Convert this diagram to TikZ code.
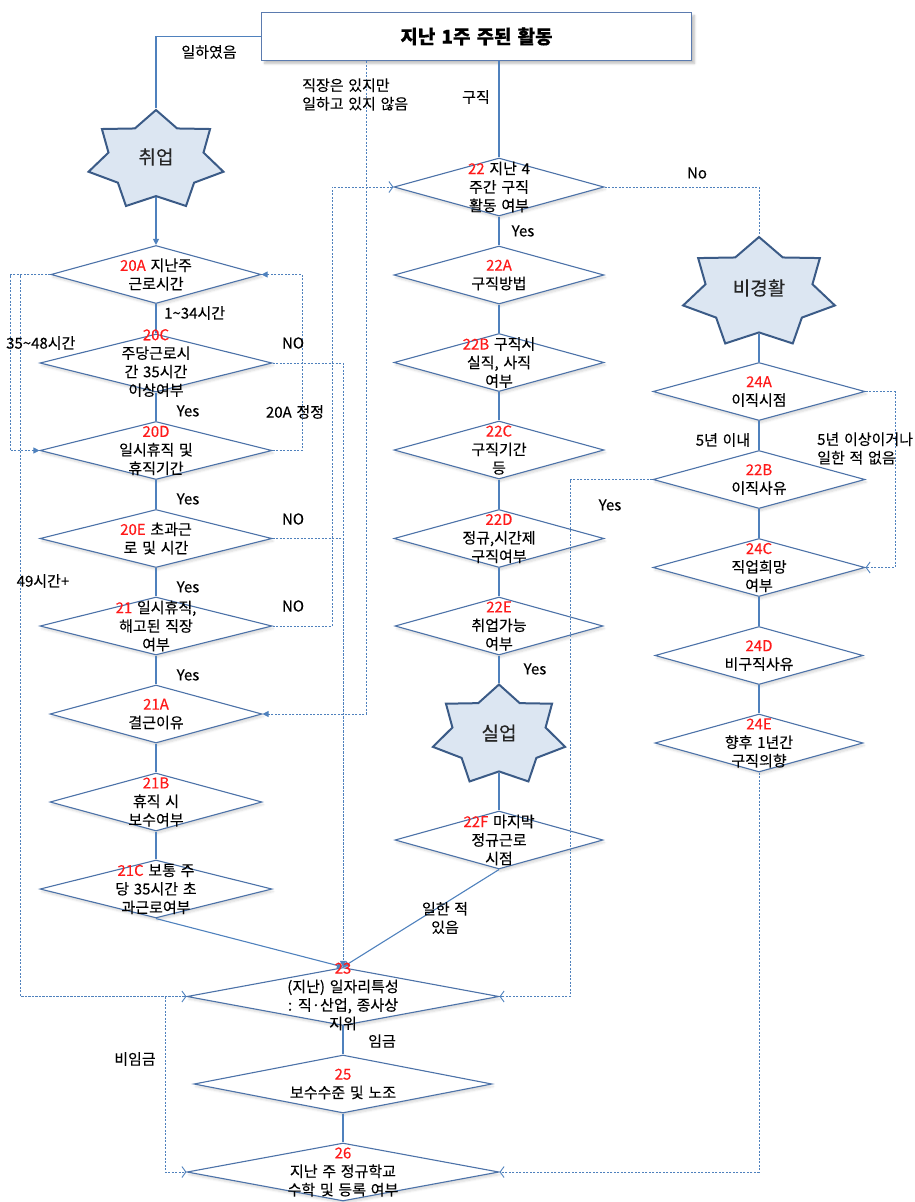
\documentclass[tikz,border=0pt]{standalone}
\usepackage{fontspec}
\setmainfont{Noto Sans CJK KR}[WordSpace=1.4, FakeBold=0.2]
\usetikzlibrary{shapes.geometric,arrows.meta,shadows.blur}

\definecolor{linkblue}{HTML}{4F81BD}
\definecolor{diaedge}{HTML}{4C72A8}
\definecolor{starfill}{HTML}{DCE6F2}
\definecolor{staredge}{HTML}{3B5B87}
\definecolor{boxedge}{HTML}{5B7BAF}
\definecolor{codered}{HTML}{FF1A1A}

\newcommand\diafont{\fontsize{15}{18.5}\selectfont}
\newcommand\code[1]{\textcolor{codered}{#1}}

\tikzset{
  dia/.style={diamond, draw=diaedge, line width=1.1pt, fill=white, inner sep=0pt,
    minimum width=#1, minimum height=58pt,
    blur shadow={shadow xshift=1.5pt, shadow yshift=-2.5pt, shadow opacity=15, shadow blur steps=5}},
  dtext/.style={align=center, font=\diafont, inner sep=0pt},
  lbl/.style={font=\diafont, inner sep=0pt},
  starbody/.style={star, star points=7, star point ratio=1.42, draw=staredge,
    line width=2pt, fill=starfill, inner sep=0pt, minimum size=#1},
  startext/.style={font=\fontsize{19}{22}\selectfont, text=black!85, inner sep=0pt},
  topbox/.style={rectangle, draw=boxedge, line width=1.2pt, fill=white,
    minimum width=430pt, minimum height=48pt, inner sep=0pt,
    font=\fontsize{19}{22}\selectfont\bfseries,
    blur shadow={shadow xshift=3pt, shadow yshift=-3pt, shadow opacity=25, shadow blur steps=6}},
  sline/.style={draw=linkblue, line width=1.1pt},
  dline/.style={draw=linkblue, line width=0.9pt, dash pattern=on 2.2pt off 1.3pt},
  tipF/.style={-{Triangle[length=6pt,width=6pt]}},
  tipO/.style={-{Straight Barb[length=4pt,width=11pt]}},
}

\begin{document}
\begin{tikzpicture}[x=1pt, y=-1pt]
\useasboundingbox (0,0) rectangle (915,1202);

% ---- header box ----
\node[topbox] (top) at (476.5,36.5) {지난 1주 주된 활동};

% ---- status stars ----
\node[starbody=101pt, xscale=1.37] (s1) at (156,160.5) {};
\node[starbody=112pt, xscale=1.39] (s2) at (759,293) {};
\node[starbody=102pt, xscale=1.33] (s3) at (499,735.5) {};

% ---- left column: employed ----
\node[dia=210pt] (n20A) at (156,274.5) {};
\node[dia=232pt] (n20C) at (156,363) {};
\node[dia=232pt] (n20D) at (156,450.5) {};
\node[dia=232pt] (n20E) at (156,538.5) {};
\node[dia=232pt] (n21)  at (156,626) {};
\node[dia=212pt] (n21A) at (156,714) {};
\node[dia=212pt] (n21B) at (156,802) {};
\node[dia=232pt] (n21C) at (156,889) {};

% ---- middle column: job search ----
\node[dia=210pt] (n22)  at (499,187) {};
\node[dia=210pt] (n22A) at (499,275) {};
\node[dia=210pt] (n22B) at (499,362.5) {};
\node[dia=210pt] (n22C) at (499,450) {};
\node[dia=210pt] (n22D) at (499,538.5) {};
\node[dia=208pt] (n22E) at (499,626) {};
\node[dia=208pt] (n22F) at (499,840) {};

% ---- right column: not in labour force ----
\node[dia=212pt] (n24A)  at (759,391.5) {};
\node[dia=212pt] (n22Br) at (759,479.5) {};
\node[dia=212pt] (n24C)  at (759,567.5) {};
\node[dia=208pt] (n24D)  at (759,655.5) {};
\node[dia=208pt] (n24E)  at (759,743) {};

% ---- bottom: common items ----
\node[dia=312pt] (n23) at (343,996.5) {};
\node[dia=298pt] (n25) at (343,1084) {};
\node[dia=312pt] (n26) at (343,1172) {};

% ---- solid flow ----
\draw[sline] (top.west) -| (s1.north);
\draw[sline, tipF] (s1.south) -- (n20A.north);
\draw[sline] (n20A.south) -- (n20C.north);
\draw[sline] (n20C.south) -- (n20D.north);
\draw[sline] (n20D.south) -- (n20E.north);
\draw[sline] (n20E.south) -- (n21.north);
\draw[sline] (n21.south) -- (n21A.north);
\draw[sline] (n21A.south) -- (n21B.north);
\draw[sline] (n21B.south) -- (n21C.north);
\draw[sline, tipF] (n21C.south) -- (n23.north);

\draw[sline] (top.south -| n22.north) -- (n22.north);
\draw[sline] (n22.south) -- (n22A.north);
\draw[sline] (n22A.south) -- (n22B.north);
\draw[sline] (n22B.south) -- (n22C.north);
\draw[sline] (n22C.south) -- (n22D.north);
\draw[sline] (n22D.south) -- (n22E.north);
\draw[sline] (n22E.south) -- (s3.north);
\draw[sline] (s3.south) -- (n22F.north);
\draw[sline, tipF] (n22F.south) -- (n23.north);

\draw[sline] (s2.south) -- (n24A.north);
\draw[sline] (n24A.south) -- (n22Br.north);
\draw[sline] (n22Br.south) -- (n24C.north);
\draw[sline] (n24C.south) -- (n24D.north);
\draw[sline] (n24D.south) -- (n24E.north);

\draw[sline] (n23.south) -- (n25.north);
\draw[sline] (n25.south) -- (n26.north);

% ---- dashed branches ----
\draw[dline, tipF] (top.south -| 366,0) |- (n21A.east);
\draw[dline, tipF] (n20A.west) -- (10,0 |- n20A.west) |- (n20D.west);
\draw[dline, tipO] (n20A.west) -- (20.7,0 |- n20A.west) |- (n23.west);
\draw[dline, tipF] (n20D.east) -| (302,0 |- n20A.east) -- (n20A.east);
\draw[dline] (n20E.east) -| (n23.north);
\draw[dline, tipF] (n20C.east) -| (n23.north);
\draw[dline, tipO] (n21.east) -| (332,0 |- n22.west) -- (n22.west);
\draw[dline] (n22.east) -| (s2.north);
\draw[dline, tipO] (n24A.east) -- (895,0 |- n24A.east) |- (n24C.east);
\draw[dline, tipO] (n22Br.west) -- (570,0 |- n22Br.west) |- (n23.east);
\draw[dline, tipO] (n24E.south) |- (n26.east);
\draw[dline, tipO] (165,0 |- n23.west) |- (n26.west);

% ---- star captions ----
\node[startext] (s1t) at (156,157) {취업};
\node[startext] (s2t) at (759,288) {비경활};
\node[startext] (s3t) at (499,733) {실업};

% ---- question texts ----
\node[dtext] (t20A) at (n20A) {\code{20A} 지난주\\근로시간};
\node[dtext] (t20C) at (n20C) {\code{20C}\\주당근로시\\간 35시간\\이상여부};
\node[dtext] (t20D) at (n20D) {\code{20D}\\일시휴직 및\\휴직기간};
\node[dtext] (t20E) at (n20E) {\code{20E} 초과근\\로 및 시간};
\node[dtext] (t21)  at (n21)  {\code{21} 일시휴직,\\해고된 직장\\여부};
\node[dtext] (t21A) at (n21A) {\code{21A}\\결근이유};
\node[dtext] (t21B) at (n21B) {\code{21B}\\휴직 시\\보수여부};
\node[dtext] (t21C) at (n21C) {\code{21C} 보통 주\\당 35시간 초\\과근로여부};

\node[dtext] (t22)  at (n22)  {\code{22} 지난 4\\주간 구직\\활동 여부};
\node[dtext] (t22A) at (n22A) {\code{22A}\\구직방법};
\node[dtext] (t22B) at (n22B) {\code{22B} 구직시\\실직, 사직\\여부};
\node[dtext] (t22C) at (n22C) {\code{22C}\\구직기간\\등};
\node[dtext] (t22D) at (n22D) {\code{22D}\\정규,시간제\\구직여부};
\node[dtext] (t22E) at (n22E) {\code{22E}\\취업가능\\여부};
\node[dtext] (t22F) at (n22F) {\code{22F} 마지막\\정규근로\\시점};

\node[dtext] (t24A)  at (n24A)  {\code{24A}\\이직시점};
\node[dtext] (t22Br) at (n22Br) {\code{22B}\\이직사유};
\node[dtext] (t24C)  at (n24C)  {\code{24C}\\직업희망\\여부};
\node[dtext] (t24D)  at (n24D)  {\code{24D}\\비구직사유};
\node[dtext] (t24E)  at (n24E)  {\code{24E}\\향후 1년간\\구직의향};

\node[dtext] (t23) at (n23) {\code{23}\\(지난) 일자리특성\\: 직·산업, 종사상\\지위};
\node[dtext] (t25) at (n25) {\code{25}\\보수수준 및 노조};
\node[dtext] (t26) at (n26) {\code{26}\\지난 주 정규학교\\수학 및 등록 여부};

% ---- branch labels ----
\node[lbl] (l1)  at (209,52) {일하였음};
\node[lbl, align=left, anchor=west] (l2) at (302,94.5) {직장은 있지만\\일하고 있지 않음};
\node[lbl] (l3)  at (476,97) {구직};
\node[lbl] (l4)  at (697,173) {No};
\node[lbl] (l5)  at (523,231) {Yes};
\node[lbl, anchor=west] (l6) at (164,313) {1\textasciitilde 34시간};
\node[lbl, anchor=west] (l7) at (6,343) {35\textasciitilde 48시간};
\node[lbl] (l8)  at (293,343) {NO};
\node[lbl] (l9)  at (188,411) {Yes};
\node[lbl] (l10) at (295,412) {20A 정정};
\node[lbl] (l11) at (188,499) {Yes};
\node[lbl] (l12) at (293,519) {NO};
\node[lbl] (l13) at (43,581) {49시간+};
\node[lbl] (l14) at (188,587) {Yes};
\node[lbl] (l15) at (293,606) {NO};
\node[lbl] (l16) at (188,675) {Yes};
\node[lbl] (l17) at (535,669) {Yes};
\node[lbl] (l18) at (723,440) {5년 이내};
\node[lbl, align=left, anchor=west] (l19) at (817,448.5) {5년 이상이거나\\일한 적 없음};
\node[lbl] (l20) at (610,505) {Yes};
\node[lbl, align=center] (l21) at (445,918) {일한 적\\있음};
\node[lbl] (l22) at (382,1041) {임금};
\node[lbl] (l23) at (135,1059) {비임금};
\end{tikzpicture}
\end{document}
